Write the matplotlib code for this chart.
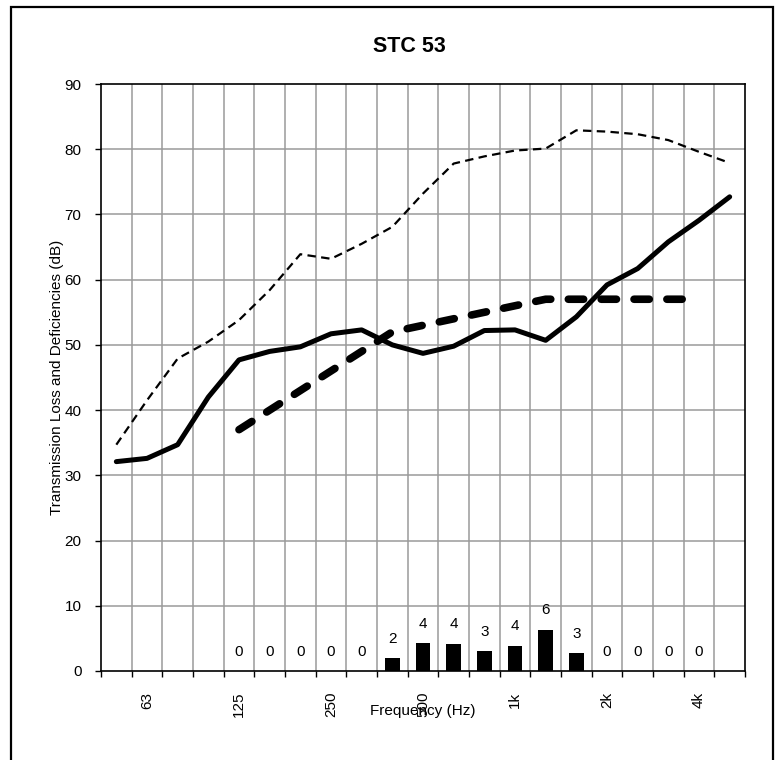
import numpy as np
import matplotlib
matplotlib.use("Agg")
import matplotlib.pyplot as plt
from matplotlib.patches import Rectangle

plt.rcParams['font.family'] = ['Liberation Sans', 'DejaVu Sans']

# third-octave bands 50 Hz .. 5 kHz
bands = ['50', '63', '80', '100', '125', '160', '200', '250', '315', '400', '500',
         '630', '800', '1k', '1.25k', '1.6k', '2k', '2.5k', '3.15k', '4k', '5k']
tick_labels = ['', '63', '', '', '125', '', '', '250', '', '', '500',
               '', '', '1k', '', '', '2k', '', '', '4k', '']

# measured transmission loss (solid)
tl = [32.1, 32.6, 34.7, 42.0, 47.7, 49.0, 49.7, 51.7, 52.3, 50.0, 48.7,
      49.8, 52.2, 52.3, 50.7, 54.3, 59.2, 61.7, 65.8, 69.1, 72.7]
# upper thin dashed curve
upper = [34.7, 41.5, 47.9, 50.5, 53.8, 58.4, 63.9, 63.2, 65.5, 68.1, 73.2,
         77.8, 78.9, 79.8, 80.1, 82.9, 82.7, 82.3, 81.4, 79.6, 77.9]
# STC 53 reference contour, 125 Hz .. 4 kHz
contour_bands = ['125', '160', '200', '250', '315', '400', '500', '630',
                 '800', '1k', '1.25k', '1.6k', '2k', '2.5k', '3.15k', '4k']
contour = [37, 40, 43, 46, 49, 52, 53, 54, 55, 56, 57, 57, 57, 57, 57, 57]
deficiency = [0, 0, 0, 0, 0, 2.0, 4.3, 4.2, 3.0, 3.9, 6.3, 2.7, 0, 0, 0, 0]


def main():
    x = np.arange(len(bands))
    xc = np.array([bands.index(b) for b in contour_bands])

    fig = plt.figure(figsize=(7.75, 7.6), dpi=100)
    ax = fig.add_axes([101 / 775, 1 - 671 / 760, 644 / 775, 587 / 760])

    # grid
    for v in range(10, 90, 10):
        ax.axhline(v, color='#9a9a9a', lw=1.1, zorder=0)
    for b in np.arange(0.5, len(bands) - 1, 1.0):
        ax.axvline(b, color='#9a9a9a', lw=1.1, zorder=0)

    # deficiency bars
    ax.bar(xc, deficiency, width=0.47, color='black', zorder=2)
    for xi, d in zip(xc, deficiency):
        ax.annotate(f"{int(round(d))}", (xi, d), xytext=(0, 14),
                    textcoords='offset points', ha='center', va='center',
                    fontsize=11)

    ax.plot(x, upper, color='black', lw=1.6, dashes=(3.8, 2.4), zorder=3)
    ax.plot(x, tl, color='black', lw=3.6, solid_capstyle='round',
            solid_joinstyle='round', zorder=4)
    ax.plot(xc, contour, color='black', lw=5.5, dashes=(2.0, 2.3),
            dash_capstyle='round', zorder=3)

    ax.set_xlim(-0.5, len(bands) - 0.5)
    ax.set_ylim(0, 90)
    ax.set_yticks(range(0, 91, 10))
    ax.tick_params(axis='y', direction='out', length=4, width=1, pad=10,
                   labelsize=11)

    # tick marks on band boundaries, labels at band centres
    ax.set_xticks(np.arange(-0.5, len(bands), 1.0))
    ax.set_xticklabels([])
    ax.tick_params(axis='x', which='major', direction='out', length=4, width=1)
    ax.set_xticks(x, minor=True)
    ax.set_xticklabels(tick_labels, minor=True, rotation=90)
    ax.tick_params(axis='x', which='minor', length=0, pad=15, labelsize=11)

    for s in ax.spines.values():
        s.set_color('black')
        s.set_linewidth(1.2)

    ax.set_ylabel('Transmission Loss and Deficiencies (dB)', fontsize=11)
    ax.yaxis.set_label_coords(-0.058, 0.5)
    ax.set_xlabel('Frequency (Hz)', fontsize=11)
    ax.xaxis.set_label_coords(0.5, -0.056)

    fig.text(409 / 775, 1 - 47 / 760, 'STC 53', ha='center', va='center',
             fontsize=15.5, fontweight='bold')

    # outer frame
    fig.patches.append(Rectangle((11 / 775, -0.02), 762 / 775, 1.02 - 7 / 760,
                                 transform=fig.transFigure, fill=False,
                                 edgecolor='black', lw=1.6))

    fig.savefig('out.png', dpi=100)


if __name__ == "__main__":
    main()
